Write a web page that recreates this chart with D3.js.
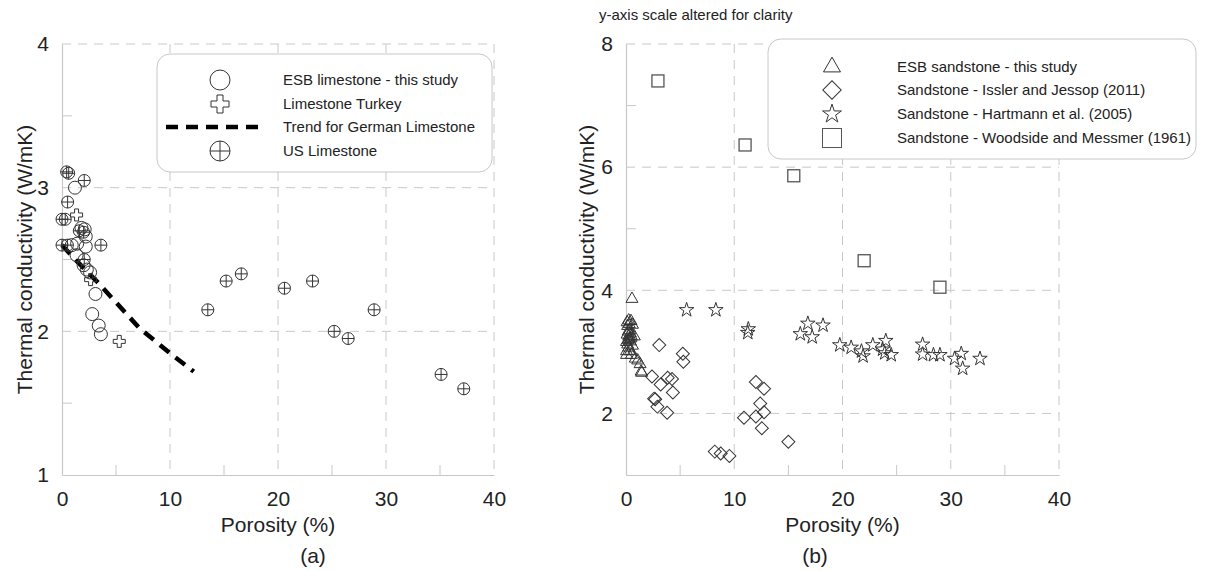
<!DOCTYPE html>
<html>
<head>
<meta charset="utf-8">
<script src="https://cdn.jsdelivr.net/npm/d3@7"></script>
<style>
  body { margin: 0; background: #fff; }
  svg text { font-family: "Liberation Sans", Arial, sans-serif; fill: #222; }
</style>
</head>
<body>
<svg id="chart" width="1206" height="571"></svg>
<script>
// ---- data ----

// (a) limestone
var esbLimestone = [[1.2,3.0],[2.1,2.71],[1.8,2.72],[2.2,2.66],[1.4,2.61],[2.2,2.59],[0.9,2.6],
  [1.35,2.53],[2.0,2.46],[2.3,2.43],[2.6,2.41],[3.1,2.26],[2.8,2.12],[3.4,2.04],[3.6,1.98]];
var limestoneTurkey = [[1.35,2.81],[2.65,2.36],[5.3,1.93]];
var germanTrend = [[0,2.6],[1.35,2.49],[3.2,2.35],[7.2,2.02],[10.3,1.83],[12.2,1.72]];
var usLimestone = [[0.43,3.11],[0.62,3.1],[2.06,3.05],[0.52,2.9],[0.0,2.78],[0.3,2.78],
  [0.0,2.6],[0.5,2.6],[3.6,2.6],[1.6,2.7],[2.0,2.69],[2.06,2.5],
  [13.5,2.15],[15.2,2.35],[16.6,2.4],[20.6,2.3],[23.2,2.35],[25.2,2.0],[26.5,1.95],[28.9,2.15],
  [35.1,1.7],[37.2,1.6]];

// (b) sandstone
var esbSandstone = [[0.55,3.86],[0.25,3.51],[0.1,3.48],[0.46,3.5],[0.3,3.45],[0.6,3.44],[0.15,3.42],
  [0.4,3.3],[0.1,3.28],[0.25,3.25],[0.5,3.25],[0.77,3.25],[0.3,3.21],[0.2,3.19],[0.4,3.17],[0.05,3.16],
  [0.35,3.35],[0.2,3.33],[0.45,3.22],[0.15,3.12],[0.6,3.1],
  [0.25,3.07],[0.05,3.01],[0.4,3.01],[0.05,2.95],[0.5,2.95],[0.86,2.89],[1.08,2.86],[1.3,2.8],
  [1.4,2.68],[1.45,2.66]];
var isslerJessop = [[3.07,3.11],[5.25,2.97],[5.3,2.84],[2.4,2.6],[3.2,2.47],[3.85,2.58],[4.25,2.56],
  [4.33,2.34],[2.6,2.24],[2.7,2.23],[2.9,2.11],[3.8,2.01],[8.2,1.38],[8.75,1.35],[9.55,1.31],
  [10.9,1.93],[12.0,2.51],[12.75,2.4],[12.4,2.16],[12.0,1.95],[12.75,2.02],[12.55,1.76],[15.0,1.54]];
var hartmann = [[5.6,3.68],[8.3,3.68],[11.3,3.37],[11.25,3.31],[16.1,3.29],[16.8,3.46],[17.2,3.24],
  [18.2,3.43],[19.75,3.11],[20.8,3.07],[21.75,3.01],[21.9,2.93],[22.8,3.11],[23.7,3.04],[24.0,3.18],
  [23.9,2.98],[24.5,2.95],[27.4,3.12],[27.4,2.96],[28.4,2.95],[29.0,2.95],[30.35,2.89],[30.97,2.97],
  [31.1,2.73],[32.7,2.89]];
var woodside = [[2.95,7.4],[11.0,6.36],[15.5,5.86],[22.0,4.48],[29.0,4.05]];

var xTicks = [0,10,20,30,40];
var yTicksA = [1,2,3,4];
var yTicksB = [2,4,6,8];
var xMinor = [5,15,25,35];
var yMinorA = [1.5,2.5,3.5];
var yMinorB = [3,5,7];

var legendA = ["ESB limestone - this study","Limestone Turkey","Trend for German Limestone","US Limestone"];
var legendB = ["ESB sandstone - this study","Sandstone - Issler and Jessop (2011)",
  "Sandstone - Hartmann et al. (2005)","Sandstone - Woodside and Messmer (1961)"];

// ---- layout ----
var top_y = 44, bottom_y = 475,
  gridcolor = "#c8c8c8",
  markcolor = "#333";

var svg = d3.select("#chart");

var xA = d3.scaleLinear().domain([0,40]).range([62,494]);
var yA = d3.scaleLinear().domain([1,4]).range([bottom_y,top_y]);
var xB = d3.scaleLinear().domain([0,40]).range([626,1059]);
var yB = d3.scaleLinear().domain([1,8]).range([bottom_y,top_y]);

function frame(X, Y, yTicks, yMinor, ytitle_x){
  var g = svg.append("g");
  var x0 = X.range()[0], x1 = X.range()[1];
  // dashed grid
  g.selectAll(".vg").data(xTicks.slice(1)).enter().append("line")
    .attr("x1",function(d){return X(d)}).attr("x2",function(d){return X(d)})
    .attr("y1",top_y).attr("y2",bottom_y)
    .attr("stroke",gridcolor).attr("stroke-dasharray","9,7");
  g.selectAll(".hg").data(yTicks.filter(function(d){return d > Y.domain()[0]})).enter().append("line")
    .attr("x1",x0).attr("x2",x1)
    .attr("y1",function(d){return Y(d)}).attr("y2",function(d){return Y(d)})
    .attr("stroke",gridcolor).attr("stroke-dasharray","9,7");
  // minor ticks inside
  g.selectAll(".mx").data(xMinor).enter().append("line")
    .attr("x1",function(d){return X(d)}).attr("x2",function(d){return X(d)})
    .attr("y1",bottom_y).attr("y2",bottom_y-10).attr("stroke",gridcolor);
  g.selectAll(".my").data(yMinor).enter().append("line")
    .attr("x1",x0).attr("x2",x0+10)
    .attr("y1",function(d){return Y(d)}).attr("y2",function(d){return Y(d)}).attr("stroke",gridcolor);

  var ax = g.append("g").attr("transform","translate(0,"+bottom_y+")")
    .call(d3.axisBottom(X).tickValues(xTicks).tickFormat(d3.format("d")).tickSize(0).tickPadding(16));
  var ay = g.append("g").attr("transform","translate("+x0+",0)")
    .call(d3.axisLeft(Y).tickValues(yTicks).tickFormat(d3.format("d")).tickSize(0).tickPadding(13));
  [ax,ay].forEach(function(a){
    a.select(".domain").attr("stroke",gridcolor).attr("stroke-width",1.2);
    a.selectAll("text").attr("font-size",21).attr("font-family","Liberation Sans, Arial, sans-serif").attr("fill","#222");
  });

  g.append("text").attr("x",(x0+x1)/2).attr("y",bottom_y+57)
    .attr("text-anchor","middle").attr("font-size",21).text("Porosity (%)");
  g.append("text").attr("transform","translate("+ytitle_x+","+((top_y+bottom_y)/2)+") rotate(-90)")
    .attr("text-anchor","middle").attr("dy","0.35em").attr("font-size",21)
    .text("Thermal conductivity (W/mK)");
  return g;
}

function plusCircle(sel, r){
  sel.append("circle").attr("r",r);
  sel.append("line").attr("x1",-r).attr("x2",r);
  sel.append("line").attr("y1",-r).attr("y2",r);
}

function marks(g, data, X, Y, draw){
  g.selectAll(null).data(data).enter().append("g")
    .attr("transform",function(d){return "translate("+X(d[0])+","+Y(d[1])+")"})
    .attr("fill","none").attr("stroke",markcolor).attr("stroke-width",1)
    .each(function(){ draw(d3.select(this)); });
}

// ---- (a) ----
var ga = frame(xA, yA, yTicksA, yMinorA, 25);

ga.append("path").datum(germanTrend)
  .attr("d",d3.line().x(function(d){return xA(d[0])}).y(function(d){return yA(d[1])}))
  .attr("fill","none").attr("stroke","#000").attr("stroke-width",4.5).attr("stroke-dasharray","12,8");

marks(ga, esbLimestone, xA, yA, function(s){ s.append("circle").attr("r",6.5); });
marks(ga, limestoneTurkey, xA, yA, function(s){ s.append("path").attr("d",d3.symbol(d3.symbolCross,80)()); });
marks(ga, usLimestone, xA, yA, function(s){ plusCircle(s,6); });

ga.append("text").attr("x",313).attr("y",bottom_y+88).attr("text-anchor","middle").attr("font-size",21).text("(a)");

// legend (a)
var la = ga.append("g");
la.append("rect").attr("x",157).attr("y",54).attr("width",335).attr("height",118).attr("rx",13)
  .attr("fill","#fff").attr("stroke",gridcolor);
var rowsA = [80,104,127,151];
la.selectAll(".lt").data(legendA).enter().append("text")
  .attr("x",283).attr("y",function(d,i){return rowsA[i]}).attr("dy","0.35em")
  .attr("font-size",15).text(function(d){return d});
la.append("circle").attr("cx",220).attr("cy",rowsA[0]).attr("r",10).attr("fill","none").attr("stroke",markcolor);
la.append("path").attr("transform","translate(220,"+rowsA[1]+")").attr("d",d3.symbol(d3.symbolCross,180)())
  .attr("fill","none").attr("stroke",markcolor);
la.append("line").attr("x1",166).attr("x2",266).attr("y1",rowsA[2]).attr("y2",rowsA[2])
  .attr("stroke","#000").attr("stroke-width",4.5).attr("stroke-dasharray","12,8");
var lp = la.append("g").attr("transform","translate(220,"+rowsA[3]+")").attr("fill","none").attr("stroke",markcolor);
plusCircle(lp,10);

// ---- (b) ----
var gb = frame(xB, yB, yTicksB, yMinorB, 587);

svg.append("text").attr("x",599).attr("y",15).attr("dy","0.35em").attr("font-size",15)
  .text("y-axis scale altered for clarity");

marks(gb, woodside, xB, yB, function(s){
  s.append("rect").attr("x",-6).attr("y",-6).attr("width",12).attr("height",12).attr("stroke","#555").attr("stroke-width",1.3);
});
marks(gb, isslerJessop, xB, yB, function(s){
  s.append("rect").attr("x",-4.6).attr("y",-4.6).attr("width",9.2).attr("height",9.2).attr("transform","rotate(45)");
});
marks(gb, hartmann, xB, yB, function(s){ s.append("path").attr("d",d3.symbol(d3.symbolStar,65)()); });
marks(gb, esbSandstone, xB, yB, function(s){ s.append("path").attr("d",d3.symbol(d3.symbolTriangle,62)()); });

gb.append("text").attr("x",815).attr("y",bottom_y+88).attr("text-anchor","middle").attr("font-size",21).text("(b)");

// legend (b)
var lb = gb.append("g");
lb.append("rect").attr("x",768).attr("y",39).attr("width",428).attr("height",120).attr("rx",13)
  .attr("fill","#fff").attr("stroke",gridcolor);
var rowsB = [67,90,114,138];
lb.selectAll(".lt").data(legendB).enter().append("text")
  .attr("x",897).attr("y",function(d,i){return rowsB[i]}).attr("dy","0.35em")
  .attr("font-size",15).text(function(d){return d});
var lsym = lb.append("g").attr("fill","none").attr("stroke",markcolor);
lsym.append("path").attr("transform","translate(832,"+rowsB[0]+")").attr("d",d3.symbol(d3.symbolTriangle,125)());
lsym.append("rect").attr("x",-6.5).attr("y",-6.5).attr("width",13).attr("height",13)
  .attr("transform","translate(832,"+rowsB[1]+") rotate(45)");
lsym.append("path").attr("transform","translate(832,"+rowsB[2]+")").attr("d",d3.symbol(d3.symbolStar,110)());
lsym.append("rect").attr("x",832-9.5).attr("y",rowsB[3]-9.5).attr("width",19).attr("height",19).attr("stroke","#555");
</script>
</body>
</html>
